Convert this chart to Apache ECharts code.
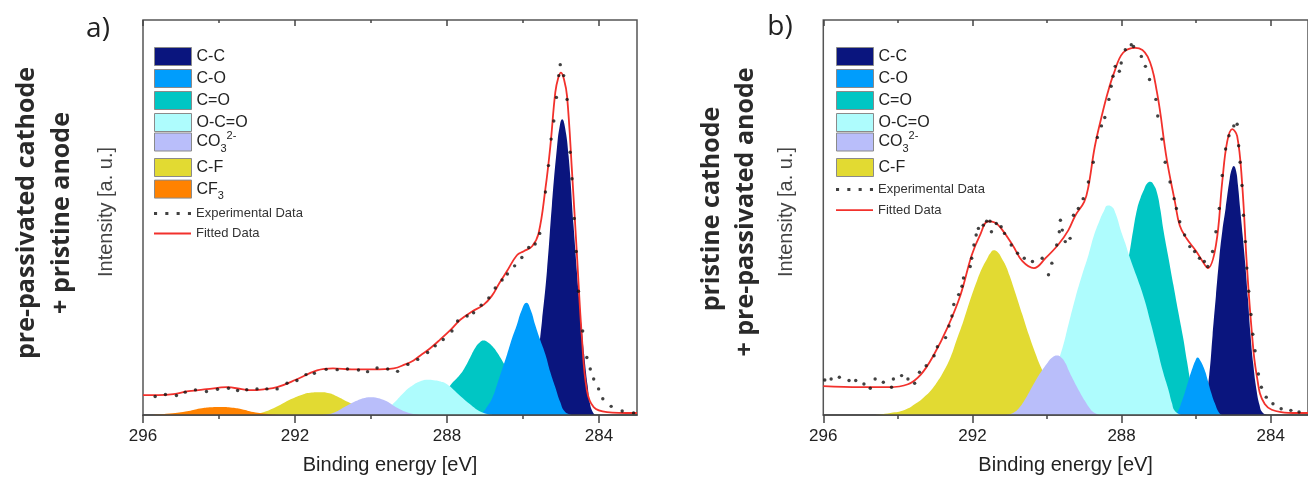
<!DOCTYPE html>
<html>
<head>
<meta charset="utf-8">
<script src="https://cdn.jsdelivr.net/npm/echarts@6/dist/echarts.min.js"></script>
<style>
html, body { margin: 0; padding: 0; background: #fff; }
#xps { width: 1308px; height: 480px; }
</style>
</head>
<body>
<div id="xps"></div>
<script>
// axis ticks (binding energy, eV)
const majorTicks = [284, 288, 292, 296]
const minorTicks = [286, 290, 294]

// ---- panel a) pre-passivated cathode + pristine anode ----  [BE, intensity]
const aCC = [[286.2,0],[286.0,4],[285.85,14],[285.7,38],[285.6,62],[285.5,95],[285.37,145],[285.24,211],[285.11,268],[285.03,292],[284.97,298],[284.9,291],[284.8,261],[284.67,191],[284.54,125],[284.46,90],[284.39,61],[284.3,30],[284.23,10],[284.15,2],[284.1,0]]
const aCO = [[287.2,0],[287.08,2],[286.95,8],[286.8,18],[286.68,31],[286.55,46],[286.42,61],[286.29,77],[286.16,91],[286.03,106],[285.91,113],[285.8,106],[285.68,91],[285.55,76],[285.41,61],[285.28,43],[285.15,28],[285.02,13],[284.89,3],[284.7,0]]
const aCdO = [[288.8,0],[288.4,8],[288.1,20],[287.91,30],[287.65,41],[287.5,50],[287.39,58],[287.25,68],[287.14,73],[287.04,75],[286.92,73],[286.8,69],[286.68,63],[286.55,55],[286.4,45],[286.1,25],[285.8,10],[285.4,2],[285.0,0]]
const aOCO = [[289.9,0],[289.6,5],[289.4,12],[289.1,24],[288.9,30],[288.7,34],[288.5,35.5],[288.35,35],[288.2,34],[288.0,31],[287.7,21],[287.4,11],[287.1,3],[286.8,0]]
const aCO3 = [[291.3,0],[291.0,2],[290.7,8],[290.4,14],[290.2,17],[290.0,18],[289.8,17],[289.6,14],[289.3,7],[289.0,2],[288.7,0]]
const aCF = [[293.2,0],[292.9,2],[292.5,8],[292.1,16],[291.85,20],[291.6,22.5],[291.33,23],[291.1,22],[290.9,19],[290.6,13],[290.3,7],[290.0,3],[289.6,0]]
const aCF3 = [[295.8,0],[295.3,1.5],[294.8,4],[294.5,6.5],[294.2,7.8],[293.97,8],[293.7,7.5],[293.4,5.8],[293.1,3],[292.7,1],[292.4,0]]
const aFit = [[296.0,20],[295.6,20],[295.2,21],[294.8,24],[294.32,26],[293.79,28],[293.4,26],[293.18,25],[292.8,26],[292.47,28],[291.95,36],[291.42,45],[291.0,47],[290.5,46],[289.93,46],[289.4,47],[289.1,51],[288.88,55],[288.7,60],[288.45,67],[288.18,76],[287.9,86],[287.65,96],[287.35,104],[287.04,111],[286.82,120],[286.62,133],[286.42,145],[286.16,161],[285.98,165],[285.76,170],[285.59,183],[285.41,228],[285.28,271],[285.15,325],[285.07,340],[285.0,345],[284.92,338],[284.84,321],[284.71,245],[284.58,161],[284.45,78],[284.32,25],[284.14,8],[283.79,3],[283.1,2],[283.0,2]]
const aExp = [[295.68,18.7],[295.41,20.7],[295.12,19.7],[294.89,23],[294.62,25.3],[294.33,23.7],[294.04,26],[293.75,27],[293.51,24.7],[293.27,25.5],[293.0,26.3],[292.74,26.3],[292.47,26.3],[292.21,32],[291.95,34.7],[291.71,40.7],[291.49,42],[291.18,46],[290.89,45.7],[290.62,46.3],[290.33,45.3],[290.09,43.7],[289.84,47.3],[289.56,46.3],[289.3,44],[289.03,51],[288.77,56],[288.51,63],[288.31,69.7],[288.1,76],[287.87,84.7],[287.72,94.7],[287.47,99.7],[287.3,103],[287.1,110.7],[286.9,118],[286.73,128],[286.55,136],[286.41,142],[286.22,150.3],[286.03,158.7],[285.85,168.7],[285.68,172.3],[285.56,183],[285.41,224.7],[285.33,251.3],[285.26,278],[285.19,296.3],[285.12,320],[285.06,342],[285.02,353],[284.93,342],[284.84,318],[284.76,264.7],[284.71,238],[284.65,198],[284.6,164.7],[284.54,124.7],[284.43,84.7],[284.32,58],[284.23,46.3],[284.14,36.3],[284.01,26.3],[283.9,16.3],[283.68,8.7],[283.39,4],[283.09,2]]

// ---- panel b) pristine cathode + pre-passivated anode ----
const bCC = [[286.0,0],[285.85,5],[285.75,16],[285.65,40],[285.56,80],[285.47,120],[285.38,158],[285.3,185],[285.21,208],[285.1,238],[285.04,248],[284.99,251],[284.93,246],[284.88,232],[284.82,208],[284.75,180],[284.68,151],[284.61,117],[284.55,85],[284.47,52],[284.38,25],[284.3,10],[284.23,3],[284.1,0]]
const bCO = [[286.6,0],[286.5,3],[286.38,14],[286.26,28],[286.17,39],[286.1,47],[286.03,54],[285.96,58],[285.89,55],[285.82,50],[285.75,43],[285.69,35],[285.6,23],[285.5,12],[285.38,2],[285.3,0]]
const bCdO = [[289.6,0],[289.2,6],[288.8,22],[288.4,60],[288.1,105],[287.95,133],[287.8,161],[287.69,186],[287.58,208],[287.49,219],[287.4,227],[287.32,233],[287.23,235],[287.14,232],[287.05,224],[286.96,207],[286.88,187],[286.75,160],[286.61,131],[286.48,104],[286.35,78],[286.24,53],[286.13,31],[286.02,20],[285.9,12],[285.6,3],[285.3,0]]
const bOCO = [[290.8,0],[290.5,5],[290.2,15],[289.9,35],[289.75,50],[289.59,67],[289.42,92],[289.24,118],[289.06,141],[288.89,161],[288.74,181],[288.6,195],[288.48,205],[288.37,211],[288.27,210],[288.16,203],[288.02,186],[287.9,173],[287.8,161],[287.6,140],[287.4,118],[287.22,93],[287.05,68],[286.9,45],[286.74,25],[286.65,12],[286.57,4],[286.4,0]]
const bCO3 = [[291.1,0],[290.91,2],[290.75,7],[290.6,15],[290.45,25],[290.3,35],[290.15,44],[290.0,52],[289.86,58],[289.73,60],[289.62,58],[289.5,52],[289.42,45],[289.33,38],[289.15,25],[288.98,14],[288.86,7],[288.76,3],[288.6,0]]
const bCF = [[294.6,0],[294.2,2],[293.82,5],[293.5,12],[293.3,18],[293.11,25],[292.95,33],[292.8,42],[292.59,58],[292.42,76],[292.24,95],[292.06,116],[291.88,135],[291.74,148],[291.6,158],[291.52,163],[291.43,166],[291.32,164],[291.2,157],[291.1,150],[291.01,141],[290.84,122],[290.66,101],[290.48,80],[290.3,61],[290.15,47],[290.0,35],[289.7,17],[289.3,5],[288.9,0]]
const bFit = [[296.0,29],[295.0,28],[294.25,28],[293.73,31],[293.38,41],[293.03,61],[292.67,88],[292.32,121],[292.02,161],[291.8,181],[291.58,195],[291.4,194],[291.23,188],[290.92,171],[290.66,155],[290.35,148],[290.04,158],[289.69,172],[289.43,186],[289.24,201],[289.0,215],[288.89,230],[288.72,270],[288.54,300],[288.37,325],[288.2,345],[287.96,365],[287.63,370],[287.3,361],[287.05,325],[286.79,258],[286.57,215],[286.44,191],[286.26,178],[286.0,165],[285.83,155],[285.69,148],[285.47,171],[285.3,235],[285.17,275],[285.03,288],[284.9,281],[284.77,235],[284.64,151],[284.51,85],[284.38,41],[284.16,11],[283.72,3],[283.28,2],[283.0,2]]
const bExp = [[295.96,35.3],[295.79,36.3],[295.57,38],[295.31,34.7],[295.13,34.7],[294.91,31.3],[294.74,27],[294.61,36.3],[294.39,33],[294.17,28],[294.12,36.3],[293.9,39.7],[293.73,36.3],[293.55,32],[293.42,43],[293.24,49.7],[293.03,59.7],[292.94,68.7],[292.72,78],[292.63,89.7],[292.55,99.7],[292.5,111.3],[292.37,121.3],[292.28,129.7],[292.24,138],[292.06,149.7],[292.02,158],[291.96,171.3],[291.9,181.3],[291.84,188],[291.71,191.3],[291.62,195.3],[291.53,195.3],[291.49,184.7],[291.36,193],[291.23,189.7],[291.14,183],[290.96,171.3],[290.79,163],[290.61,158],[290.39,154.7],[290.13,158],[289.96,141.3],[289.87,153],[289.74,171.3],[289.67,184.7],[289.64,196.3],[289.59,186.3],[289.51,174.7],[289.38,178],[289.29,201.3],[289.16,208],[289.03,218],[288.89,234.7],[288.76,254.7],[288.65,279.7],[288.54,291.3],[288.45,299.7],[288.34,318],[288.28,331.3],[288.23,341.3],[288.17,351.3],[288.06,346.3],[288.01,354.7],[287.9,368],[287.74,373],[287.68,371.3],[287.47,361.3],[287.36,351.3],[287.25,338],[287.08,318],[287.03,301.3],[286.92,278],[286.83,254.7],[286.7,234.7],[286.59,218],[286.53,208],[286.44,194.7],[286.31,181.3],[286.17,169.7],[286.04,164.7],[285.91,158],[285.78,154.7],[285.69,149.7],[285.56,164.7],[285.47,184.7],[285.38,208],[285.3,241.3],[285.21,268],[285.12,281.3],[284.99,291.3],[284.9,293],[284.86,271.3],[284.82,254.7],[284.77,231.3],[284.73,201.3],[284.68,174.7],[284.64,148],[284.59,124.7],[284.53,101.3],[284.48,81.3],[284.42,64.7],[284.33,41.3],[284.25,28],[284.12,18],[283.94,11.3],[283.72,6.3],[283.46,4.7],[283.24,3]]

const colors = {
	'C-C': '#0a157e',
	'C-O': '#009dfc',
	'C=O': '#00c6c4',
	'O-C=O': '#aefcfd',
	'CO3': '#b9befa',
	'C-F': '#e2da32',
	'CF3': '#ff8200',
}
const fontSans = 'Liberation Sans'

var chart = echarts.init(document.getElementById('xps'))

const grids = [
	{ left: 143, top: 20, width: 494, height: 398 },
	{ left: 823.3, top: 20, width: 494, height: 398 },
]

const xAxes = []
const yAxes = []
grids.forEach((g, i) => {
	const base = { gridIndex: i, type: 'value', min: 283, max: 296, inverse: true, splitLine: { show: false }, z: 10 }
	xAxes.push({
		...base,
		position: 'bottom',
		axisLine: { show: true, lineStyle: { color: '#444', width: 1.5 } },
		axisTick: { show: true, inside: false, length: 8, customValues: majorTicks, lineStyle: { color: '#444', width: 1.5 } },
		axisLabel: { show: true, customValues: majorTicks, margin: 13, fontSize: 17, color: '#222', fontFamily: fontSans },
		name: 'Binding energy [eV]',
		nameLocation: 'middle',
		nameGap: 40,
		nameTextStyle: { fontSize: 20, color: '#222', fontFamily: fontSans },
	})
	xAxes.push({
		...base,
		position: 'bottom',
		axisLine: { show: false },
		axisTick: { show: true, inside: false, length: 4, customValues: minorTicks, lineStyle: { color: '#444', width: 1.5 } },
		axisLabel: { show: false },
	})
	xAxes.push({
		...base,
		position: 'top',
		axisLine: { show: false },
		axisTick: { show: true, inside: true, length: 6, customValues: majorTicks, lineStyle: { color: '#444', width: 1.5 } },
		axisLabel: { show: false },
	})
	xAxes.push({
		...base,
		position: 'top',
		axisLine: { show: false },
		axisTick: { show: true, inside: true, length: 3, customValues: minorTicks, lineStyle: { color: '#444', width: 1.5 } },
		axisLabel: { show: false },
	})
	yAxes.push({
		gridIndex: i, type: 'value', min: 0, max: 398,
		axisLine: { show: false }, axisTick: { show: false }, axisLabel: { show: false }, splitLine: { show: false },
	})
})

const peak = (name, data, p) => ({
	name: name,
	type: 'line',
	xAxisIndex: p * 4,
	yAxisIndex: p,
	data: data,
	smooth: 0.5,
	symbol: 'none',
	color: colors[name],
	lineStyle: { width: 0, color: colors[name] },
	areaStyle: { color: colors[name], opacity: 1 },
	silent: true,
})
const fit = (data, p) => ({
	name: 'Fitted Data',
	type: 'line',
	xAxisIndex: p * 4,
	yAxisIndex: p,
	data: data,
	smooth: 0.4,
	symbol: 'none',
	color: '#f2312c',
	lineStyle: { width: 1.8, color: '#f2312c' },
	z: 4,
})
const exp = (data, p) => ({
	name: 'Experimental Data',
	type: 'scatter',
	xAxisIndex: p * 4,
	yAxisIndex: p,
	data: data,
	symbol: 'circle',
	symbolSize: 3.4,
	color: '#111',
	z: 5,
})

// drawing order = stacking order seen in the figure
const series = [
	peak('C-C', aCC, 0), peak('C=O', aCdO, 0), peak('C-O', aCO, 0), peak('O-C=O', aOCO, 0),
	peak('C-F', aCF, 0), peak('CF3', aCF3, 0), peak('CO3', aCO3, 0),
	fit(aFit, 0), exp(aExp, 0),
	peak('C-C', bCC, 1), peak('C=O', bCdO, 1), peak('C-O', bCO, 1), peak('O-C=O', bOCO, 1),
	peak('C-F', bCF, 1), peak('CO3', bCO3, 1),
	fit(bFit, 1), exp(bExp, 1),
]

const rich = {
	m: { fontSize: 16, lineHeight: 24, color: '#222', fontFamily: fontSans },
	sub: { fontSize: 11, lineHeight: 12, verticalAlign: 'bottom', color: '#222', fontFamily: fontSans },
	sup: { fontSize: 11, lineHeight: 12, verticalAlign: 'top', color: '#222', fontFamily: fontSans },
}
const fmt = (name) => {
	if (name === 'CO3') return '{m|CO}{sub|3}{sup|2-}'
	if (name === 'CF3') return '{m|CF}{sub|3}'
	return '{m|' + name + '}'
}
const swatch = (left, top, data, gap) => ({
	left: left, top: top, orient: 'vertical', data: data,
	icon: 'rect', itemWidth: 37, itemHeight: 18, itemGap: gap,
	selectedMode: false, padding: 0,
	itemStyle: { borderColor: '#8a8a8a', borderWidth: 1 },
	formatter: fmt,
	textStyle: { rich: rich, fontSize: 16, color: '#222', fontFamily: fontSans },
})
const dotsIcon = 'path://M0,0h3v3h-3zM11,0h3v3h-3zM22,0h3v3h-3zM33,0h3v3h-3z'
const lineIcon = 'path://M0,0h37v1.8h-37z'
const lines = (left, top, gap) => ({
	left: left, top: top, orient: 'vertical',
	data: [{ name: 'Experimental Data', icon: dotsIcon }, { name: 'Fitted Data', icon: lineIcon }],
	itemWidth: 37, itemHeight: 13, itemGap: gap,
	selectedMode: false, padding: 0,
	textStyle: { fontSize: 13, color: '#333', fontFamily: fontSans },
})

const legends = [
	swatch(154, 47, ['C-C', 'C-O', 'C=O', 'O-C=O'], 3),
	swatch(154, 130, ['CO3'], 3),
	swatch(154, 158, ['C-F', 'CF3'], 2.6),
	lines(154, 207, 7),
	swatch(836, 47, ['C-C', 'C-O', 'C=O', 'O-C=O'], 3),
	swatch(836, 130, ['CO3'], 3),
	swatch(836, 158, ['C-F'], 3),
	lines(836, 183, 7.7),
]

const vText = (x, y, text, font, fill) => ({
	type: 'text', x: x, y: y, rotation: Math.PI / 2,
	style: { text: text, font: font, fill: fill, align: 'center', verticalAlign: 'middle' },
})
const sideFont = 'bold 25px "Open Sans", sans-serif'
const graphic = [
	{ type: 'text', x: 98, y: 29, style: { text: 'a)', font: '28px "Open Sans", sans-serif', fill: '#222', align: 'center', verticalAlign: 'middle' } },
	{ type: 'text', x: 780, y: 27, style: { text: 'b)', font: '28px "Open Sans", sans-serif', fill: '#222', align: 'center', verticalAlign: 'middle' } },
	vText(27, 213, 'pre-passivated cathode', sideFont, '#2a2a2a'),
	vText(62, 213, '+ pristine anode', sideFont, '#2a2a2a'),
	vText(712, 209, 'pristine cathode', sideFont, '#2a2a2a'),
	vText(746, 212, '+ pre-passivated anode', sideFont, '#2a2a2a'),
	vText(106, 212, 'Intensity [a. u.]', '20px "Liberation Sans", sans-serif', '#444'),
	vText(786, 212, 'Intensity [a. u.]', '20px "Liberation Sans", sans-serif', '#444'),
]

var option = {
	animation: false,
	backgroundColor: '#fff',
	grid: grids.map((g) => ({ ...g, show: true, borderColor: '#555', borderWidth: 1.5, backgroundColor: 'transparent' })),
	xAxis: xAxes,
	yAxis: yAxes,
	legend: legends,
	graphic: graphic,
	series: series,
}

option && chart.setOption(option)
</script>
</body>
</html>
